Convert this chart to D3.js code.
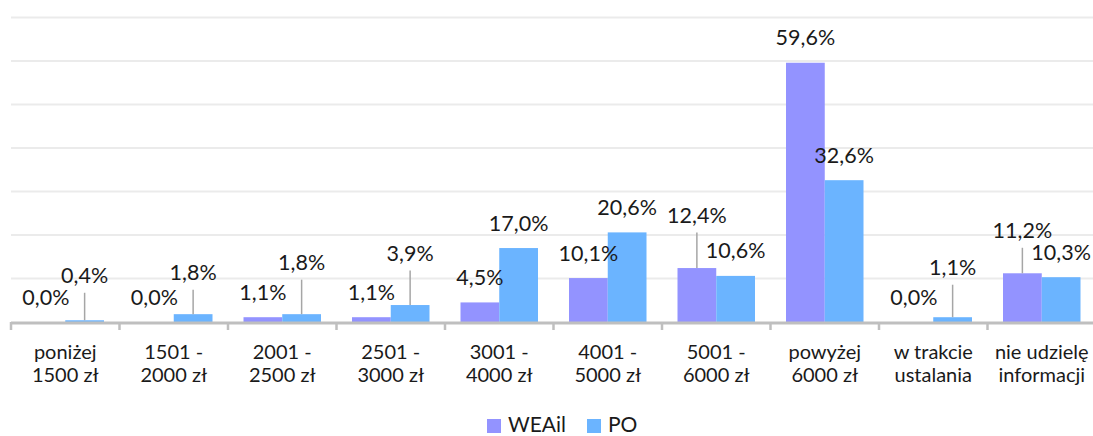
<!DOCTYPE html>
<html><head><meta charset="utf-8">
<script src="https://cdn.jsdelivr.net/npm/d3@7/dist/d3.min.js"></script>
<style>html,body{margin:0;padding:0;background:#fff;}svg{display:block;}</style>
</head><body>
<svg id="chart" width="1093" height="436"></svg>
<script>
const categories = [
  ["poniżej","1500 zł"],["1501 -","2000 zł"],["2001 -","2500 zł"],["2501 -","3000 zł"],
  ["3001 -","4000 zł"],["4001 -","5000 zł"],["5001 -","6000 zł"],["powyżej","6000 zł"],
  ["w trakcie","ustalania"],["nie udzielę","informacji"]
];
const seriesNames = ["WEAil","PO"];
const weail = [0.0,0.0,1.1,1.1,4.5,10.1,12.4,59.6,0.0,11.2];
const po = [0.4,1.8,1.8,3.9,17.0,20.6,10.6,32.6,1.1,10.3];
const yTicks = [0,10,20,30,40,50,60,70];
// manual label lifts (px) as placed in the original chart
const liftWeail = [0,0,0,0,0,0,28,0,0,18];
const liftPo = [20,17,27,27,0,0,0,0,25,0];

const colors = {"WEAil":"#9393FF","PO":"#6BB4FF"};
const font = "Lato, 'Open Sans', sans-serif";

const svg = d3.select("#chart");
const x = d3.scaleBand().domain(d3.range(categories.length)).range([11,1096]).paddingInner(0).paddingOuter(0);
const xs = d3.scaleBand().domain(seriesNames).range([0,x.bandwidth()]).paddingInner(0).paddingOuter(0.4);
const y = d3.scaleLinear().domain([0,70]).range([322,17.5]);

// gridlines
svg.append("g").selectAll("line").data(yTicks.slice(1)).join("line")
  .attr("x1",11).attr("x2",1096).attr("y1",d=>y(d)).attr("y2",d=>y(d))
  .attr("stroke","#EBEBEB").attr("stroke-width",2);

const data = [];
categories.forEach((c,i)=>{
  data.push({i, s:"WEAil", v:weail[i], lift:liftWeail[i]});
  data.push({i, s:"PO", v:po[i], lift:liftPo[i]});
});

// bars
svg.append("g").selectAll("rect").data(data).join("rect")
  .attr("x",d=>x(d.i)+xs(d.s)).attr("width",xs.bandwidth())
  .attr("y",d=>y(d.v)).attr("height",d=>y(0)-y(d.v))
  .attr("fill",d=>colors[d.s]);

// leader lines
svg.append("g").selectAll("line").data(data.filter(d=>d.lift>0)).join("line")
  .attr("x1",d=>x(d.i)+xs(d.s)+xs.bandwidth()/2).attr("x2",d=>x(d.i)+xs(d.s)+xs.bandwidth()/2)
  .attr("y1",d=>y(d.v)-25-d.lift+17.5).attr("y2",d=>y(d.v))
  .attr("stroke","#A6A6A6").attr("stroke-width",1.5);

// axis (drawn over bars)
const axisG = svg.append("g");
axisG.append("line").attr("x1",11).attr("x2",1096).attr("y1",y(0)+1).attr("y2",y(0)+1)
  .attr("stroke","#BFBFBF").attr("stroke-width",3);
const bounds = d3.range(categories.length+1).map(i=>11+i*x.step());
axisG.selectAll("line.tick").data(bounds).join("line").attr("class","tick")
  .attr("x1",d=>d).attr("x2",d=>d).attr("y1",y(0)).attr("y2",y(0)+8)
  .attr("stroke","#BFBFBF").attr("stroke-width",2.5);

// category labels
const catG = svg.append("g").attr("font-family",font).attr("font-size",20).attr("fill","#1a1a1a").attr("text-anchor","middle");
categories.forEach((c,i)=>{
  const t = catG.append("text").attr("x",x(i)+x.bandwidth()/2).attr("y",359);
  c.forEach((line,k)=>t.append("tspan").attr("x",x(i)+x.bandwidth()/2).attr("y",359+k*23).text(line));
});

// data labels
const fmt = v => v.toFixed(1).replace(".",",")+"%";
svg.append("g").attr("font-family",font).attr("font-size",21.5).attr("fill","#1a1a1a").attr("text-anchor","middle")
  .selectAll("text").data(data).join("text")
  .attr("x",d=>x(d.i)+xs(d.s)+xs.bandwidth()/2)
  .attr("y",d=>y(d.v)-25-d.lift+7.5)
  .text(d=>fmt(d.v));

// legend
const leg = svg.append("g").attr("font-family",font).attr("font-size",21).attr("fill","#1a1a1a");
const legX = [487,587];
seriesNames.forEach((s,k)=>{
  leg.append("rect").attr("x",legX[k]).attr("y",419).attr("width",14).attr("height",14).attr("fill",colors[s]);
  leg.append("text").attr("x",legX[k]+21).attr("y",432).text(s);
});
</script>
</body></html>
